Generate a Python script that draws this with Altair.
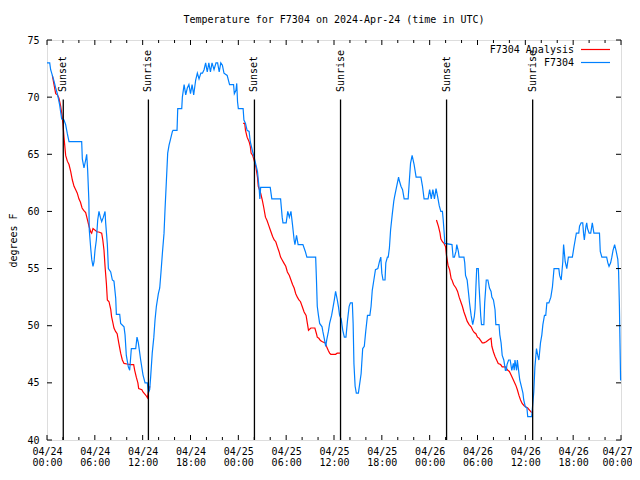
import altair as alt
import pandas as pd

# ---------------- data (hours since 2024-04-24 00:00 UTC, deg F) ----------------
obs_hours = [0.0, 0.34, 0.46, 0.67, 0.88, 1.09, 1.30, 1.59, 1.84, 2.13, 2.34, 2.55, 2.76, 4.35, 4.43, 4.64, 4.85, 4.98, 5.10, 5.25,
             5.30, 5.48, 5.61, 5.77, 5.90, 6.02, 6.19, 6.36, 6.52, 6.69, 6.86, 7.07, 7.28, 7.36, 7.57, 7.70, 7.99, 8.20, 8.40, 8.62,
             8.70, 9.12, 9.24, 9.66, 9.79, 9.95, 10.2, 10.37, 10.58, 11.13, 11.29, 11.46, 11.75, 12.04, 12.3, 12.59, 12.71, 12.88, 13.0, 13.2,
             13.4, 13.55, 13.72, 13.97, 14.14, 14.3, 14.47, 14.68, 14.8, 14.97, 15.14, 15.31, 15.52, 15.73, 15.81, 16.31, 16.4, 16.9, 16.98, 17.2,
             17.4, 17.6, 17.8, 18.0, 18.2, 18.4, 18.65, 18.86, 19.07, 19.3, 19.5, 19.7, 19.9, 20.1, 20.3, 20.5, 20.7, 20.95, 21.2, 21.4,
             21.6, 21.8, 22.0, 22.2, 22.6, 22.9, 23.4, 23.5, 23.7, 23.8, 23.9, 24.0, 24.6, 24.7, 24.9, 25.1, 25.35, 25.5, 25.8, 25.97,
             26.2, 26.4, 26.6, 26.7, 26.8, 28.0, 28.2, 29.3, 29.5, 29.6, 30.0, 30.2, 30.4, 30.6, 30.8, 31.0, 31.1, 31.3, 31.5, 32.1,
             32.4, 32.6, 33.7, 33.8, 33.9, 34.05, 34.2, 34.5, 34.6, 34.8, 34.96, 35.1, 35.3, 35.45, 35.7, 35.9, 36.05, 36.2, 36.4, 36.55,
             36.7, 36.9, 37.1, 37.3, 37.5, 37.7, 37.9, 38.06, 38.3, 38.4, 38.5, 38.65, 38.8, 39.06, 39.2, 39.4, 39.6, 39.8, 39.98, 40.2,
             40.5, 40.65, 40.8, 41.0, 41.2, 41.5, 41.7, 41.87, 42.0, 42.15, 42.4, 42.5, 42.7, 42.8, 42.95, 43.1, 43.3, 43.5, 43.6, 44.1,
             44.17, 44.4, 44.6, 44.8, 45.3, 45.5, 45.6, 45.8, 46.05, 46.3, 46.9, 47.1, 47.3, 47.8, 48.0, 48.2, 48.4, 48.6, 48.8, 49.0,
             49.2, 49.4, 49.6, 49.7, 49.85, 49.9, 50.8, 50.94, 51.1, 51.3, 51.4, 51.6, 51.7, 52.3, 52.4, 52.5, 52.7, 52.9, 53.0, 53.2,
             53.4, 53.6, 53.7, 53.8, 53.9, 54.1, 54.2, 54.4, 54.5, 54.8, 54.9, 55.1, 55.3, 55.5, 55.7, 55.8, 56.0, 56.2, 56.3, 56.7,
             56.8, 56.96, 57.1, 57.3, 57.5, 57.6, 57.7, 57.9, 58.1, 58.3, 58.5, 58.6, 58.7, 58.9, 59.0, 59.1, 59.3, 59.5, 59.7, 59.8,
             60.0, 60.2, 60.3, 60.8, 60.9, 61.06, 61.2, 61.4, 61.56, 61.7, 61.9, 62.07, 62.2, 62.4, 62.56, 62.7, 62.95, 63.2, 63.4, 63.6,
             64.2, 64.3, 64.5, 64.7, 64.8, 65.0, 65.2, 65.4, 65.9, 66.1, 66.25, 66.4, 66.7, 66.8, 67.0, 67.2, 67.3, 67.4, 67.6, 67.7,
             67.8, 68.0, 68.2, 68.4, 68.6, 69.3, 69.4, 69.6, 70.2, 70.35, 70.5, 70.7, 70.85, 71.0, 71.2, 71.4, 71.6, 71.7, 71.8, 71.95]
obs_temps = [73.0, 73.0, 72.4, 71.9, 71.4, 70.8, 70.3, 69.3, 68.1, 68.0, 67.6, 66.8, 66.1, 66.1, 64.6, 63.8, 64.5, 65.0, 63.6, 61.0,
             58.4, 56.8, 55.8, 55.2, 55.6, 56.6, 57.5, 59.25, 60.0, 59.5, 59.1, 59.5, 60.0, 59.0, 57.1, 55.0, 54.7, 54.0, 53.9, 52.4,
             51.0, 51.0, 50.2, 49.9, 49.2, 47.4, 46.4, 46.1, 48.0, 48.0, 49.0, 48.5, 47.0, 45.7, 45.0, 45.0, 44.1, 44.4, 45.5, 47.6,
             49.0, 50.5, 51.7, 52.8, 53.3, 54.7, 56.3, 58.1, 60.1, 62.6, 65.1, 65.8, 66.4, 67.0, 67.1, 67.1, 69.0, 69.0, 70.0, 71.1,
             70.2, 70.8, 71.1, 70.3, 71.1, 70.2, 71.5, 72.1, 71.6, 72.1, 72.1, 72.4, 73.0, 72.2, 73.0, 72.2, 73.0, 72.4, 73.0, 73.0,
             72.2, 73.0, 72.8, 72.1, 71.9, 71.1, 71.1, 70.3, 70.6, 71.2, 69.6, 69.0, 69.0, 68.0, 67.7, 67.1, 67.0, 66.1, 65.2, 64.8,
             64.1, 63.5, 62.1, 61.1, 62.1, 62.1, 61.1, 61.1, 59.5, 59.0, 59.0, 60.0, 59.5, 60.0, 58.8, 57.5, 57.1, 57.9, 57.1, 57.1,
             56.5, 56.0, 56.0, 54.0, 51.7, 50.9, 50.2, 49.9, 49.5, 48.8, 48.2, 48.8, 49.5, 50.2, 50.9, 51.7, 52.3, 53.0, 52.3, 51.7,
             50.9, 50.6, 49.6, 49.0, 49.0, 50.5, 51.7, 52.0, 52.0, 50.2, 46.7, 44.7, 44.1, 44.1, 44.8, 45.8, 48.0, 48.2, 49.5, 50.9,
             50.9, 51.7, 53.1, 54.0, 54.9, 55.0, 55.6, 56.0, 54.6, 54.0, 54.0, 55.5, 56.0, 56.0, 56.8, 58.4, 59.7, 60.9, 61.3, 63.0,
             62.75, 62.2, 61.9, 61.1, 61.1, 63.2, 64.2, 64.9, 64.1, 63.0, 63.0, 62.2, 61.1, 61.1, 61.9, 61.1, 61.9, 61.1, 62.0, 61.3,
             60.5, 60.0, 60.0, 59.25, 57.8, 57.2, 57.1, 56.0, 56.0, 56.5, 57.1, 56.5, 56.0, 56.0, 55.5, 54.4, 54.0, 52.7, 52.0, 50.9,
             50.1, 50.8, 51.5, 53.4, 55.0, 55.0, 53.4, 50.9, 50.1, 50.1, 52.0, 54.0, 54.0, 53.3, 53.0, 52.5, 52.25, 51.4, 50.1, 50.1,
             49.2, 48.5, 47.4, 47.0, 46.1, 46.1, 46.6, 47.0, 47.0, 46.1, 46.7, 46.1, 47.0, 46.1, 47.0, 46.4, 45.25, 44.7, 44.1, 43.5,
             42.9, 42.8, 42.05, 42.05, 42.9, 44.2, 46.4, 48.0, 47.4, 47.0, 48.5, 49.2, 50.1, 50.9, 50.9, 52.0, 52.0, 52.5, 53.4, 55.0,
             55.0, 54.4, 54.0, 55.6, 57.1, 55.6, 55.0, 56.0, 56.0, 56.9, 57.5, 58.1, 58.1, 58.7, 59.0, 59.0, 58.1, 57.5, 58.7, 59.0,
             58.5, 58.1, 58.1, 59.0, 58.1, 58.1, 56.5, 56.0, 56.0, 55.5, 55.2, 55.5, 56.0, 56.6, 57.1, 56.5, 55.8, 54.7, 51.7, 45.2]

ana_hours = [0.67, 0.88, 1.09, 1.3, 1.5, 1.72, 1.84, 2.0, 2.13, 2.34, 2.55, 2.76, 2.97, 3.18, 3.39, 3.6, 3.8, 4.0, 4.2, 4.4,
             4.6, 4.85, 5.06, 5.27, 5.48, 5.6, 5.77, 6.3, 6.5, 6.86, 7.0, 7.15, 7.28, 7.45, 7.57, 7.78, 8.0, 8.1, 8.28, 8.4,
             8.6, 8.8, 9.0, 9.24, 9.45, 9.66, 10.03, 10.5, 10.87, 11.0, 11.2, 11.4, 11.5, 11.9, 12.04, 12.3, 12.46, 12.6, 12.7, 12.9,
             24.6, 24.8, 24.9, 25.1, 25.35, 25.5, 25.6, 25.8, 25.97, 26.2, 26.4, 26.5, 26.8, 27.0, 27.2, 27.4, 27.6, 27.8, 28.0, 28.3,
             28.5, 28.7, 28.9, 29.1, 29.3, 29.5, 29.7, 29.95, 30.15, 30.4, 30.6, 30.8, 31.0, 31.2, 31.4, 31.6, 31.8, 32.0, 32.25, 32.5,
             32.66, 32.8, 33.1, 33.6, 33.8, 33.9, 34.1, 34.3, 34.55, 34.9, 35.05, 35.3, 35.45, 35.6, 36.2, 36.4, 36.75,
             48.85, 49.1, 49.3, 49.4, 49.6, 49.8, 50.0, 50.1, 50.3, 50.5, 50.7, 50.8, 51.0, 51.3, 51.5, 51.7, 51.9, 52.1, 52.3, 52.5,
             52.7, 52.95, 53.2, 53.4, 53.6, 53.8, 54.0, 54.2, 54.4, 54.6, 54.8, 55.1, 55.45, 55.7, 55.8, 56.0, 56.2, 56.4, 56.6, 56.9,
             57.1, 57.5, 57.8, 58.0, 58.2, 58.4, 58.6, 58.8, 59.0, 59.2, 59.4, 59.6, 59.85, 60.05, 60.3, 60.55, 60.8]
ana_temps = [71.9, 71.1, 70.3, 70.2, 69.9, 69.2, 68.6, 67.7, 66.5, 64.9, 64.4, 64.1, 63.5, 62.75, 62.2, 61.9, 61.6, 61.1, 60.8, 60.3,
             60.1, 59.9, 59.3, 58.7, 58.2, 58.1, 58.5, 58.2, 58.2, 58.1, 57.5, 56.6, 55.2, 53.7, 52.25, 52.1, 51.4, 50.8, 50.2, 49.8,
             49.5, 49.3, 48.5, 47.6, 47.0, 46.7, 46.65, 46.6, 46.6, 46.1, 45.5, 45.0, 44.5, 44.4, 44.2, 44.0, 43.85, 43.7, 44.2, 44.7,
             67.7, 67.7, 67.1, 66.5, 66.1, 65.7, 65.1, 64.9, 64.5, 63.9, 63.0, 62.2, 61.6, 61.0, 60.3, 59.5, 59.2, 58.8, 58.4, 57.8,
             57.5, 57.35, 56.9, 56.5, 56.0, 55.75, 55.5, 55.2, 54.7, 54.4, 54.0, 53.6, 53.3, 52.8, 52.5, 52.25, 52.1, 51.7, 51.2, 50.9,
             50.2, 49.6, 49.8, 49.8, 49.3, 49.0, 48.9, 48.7, 48.6, 48.5, 48.2, 47.8, 47.6, 47.5, 47.5, 47.6, 47.6,
             59.25, 58.7, 58.1, 57.6, 57.35, 57.2, 56.9, 56.2, 55.3, 54.9, 54.1, 54.0, 53.6, 53.3, 53.0, 52.5, 52.1, 51.7, 51.2, 50.8,
             50.4, 50.1, 49.9, 49.6, 49.4, 49.3, 49.0, 48.9, 48.7, 48.5, 48.5, 48.6, 48.8, 48.9, 48.2, 47.7, 47.3, 47.0, 46.7, 46.6,
             46.4, 46.4, 46.1, 46.0, 45.7, 45.4, 45.1, 44.8, 44.4, 43.9, 43.5, 43.2, 43.0, 42.9, 42.8, 42.6, 42.4]
ana_segment = [1] * 60 + [2] * 57 + [3] * 57

event_hours = [2.04, 12.72, 26.02, 36.82, 50.12, 60.92]
event_labels = ["Sunset", "Sunrise", "Sunset", "Sunrise", "Sunset", "Sunrise"]

x_major_ticks = list(range(0, 73, 6))
x_minor_ticks = [h for h in range(0, 73, 2) if h % 6 != 0]
y_ticks = [40, 45, 50, 55, 60, 65, 70, 75]

legend_labels = ["F7304 Analysis", "F7304"]
legend_colors = ["#ff0000", "#0080ff"]

# ---------------- chart ----------------
FONT = "DejaVu Sans Mono"
PW, PH = 574, 400

obs = pd.DataFrame({"h": obs_hours, "t": obs_temps})
ana = pd.DataFrame({"h": ana_hours, "t": ana_temps, "seg": ana_segment})
ev = pd.DataFrame({"h": event_hours, "label": event_labels})
xmaj = pd.DataFrame({"h": x_major_ticks})
xmin = pd.DataFrame({"h": x_minor_ticks})
yt = pd.DataFrame({"t": y_ticks})

xscale = alt.Scale(domain=[0, 72], nice=False, zero=False)
yscale = alt.Scale(domain=[40, 75], nice=False, zero=False)

label_expr = ("['04/' + (24 + floor(datum.value / 24)), "
              "(floor(datum.value % 24) < 10 ? '0' : '') + floor(datum.value % 24) + ':00']")

x_axis = alt.Axis(values=x_major_ticks, labelExpr=label_expr, ticks=False, domain=False, grid=False,
                  labelPadding=6, labelLineHeight=11.5, labelFlush=False, labelOverlap=False,
                  labelOffset={"condition": {"test": "datum.value >= 72", "value": -4}, "value": 0},
                  labelFont=FONT, labelFontSize=10, labelColor="black", title=None)
y_axis = alt.Axis(values=y_ticks, ticks=False, domain=False, grid=False, labelPadding=8,
                  labelFont=FONT, labelFontSize=10, labelColor="black", labelFlush=False,
                  title="degrees F", titleFont=FONT, titleFontSize=10, titleFontWeight="normal",
                  titleColor="black", titlePadding=8)

X = alt.X("h:Q", scale=xscale, axis=x_axis)
Y = alt.Y("t:Q", scale=yscale, axis=y_axis)

red = alt.Chart(ana).mark_line(color="#ff0000", strokeWidth=1.2).encode(x=X, y=Y, detail="seg:N")
blue = alt.Chart(obs).mark_line(color="#0080ff", strokeWidth=1.2).encode(x=X, y=Y)

ev_rules = alt.Chart(ev).mark_rule(color="black", strokeWidth=1.3).encode(
    x=X, y=alt.datum(69.8), y2=alt.datum(40))
ev_text = alt.Chart(ev).mark_text(angle=270, align="left", baseline="middle", font=FONT,
                                  fontSize=10, color="black").encode(
    x=X, y=alt.datum(70.45), text="label:N")

tick_maj_b = alt.Chart(xmaj).mark_rule(color="black").encode(x=X, y=alt.value(PH), y2=alt.value(PH - 5))
tick_maj_t = alt.Chart(xmaj).mark_rule(color="black").encode(x=X, y=alt.value(0), y2=alt.value(5))
tick_min_b = alt.Chart(xmin).mark_rule(color="black").encode(x=X, y=alt.value(PH), y2=alt.value(PH - 3))
tick_min_t = alt.Chart(xmin).mark_rule(color="black").encode(x=X, y=alt.value(0), y2=alt.value(3))
tick_y_l = alt.Chart(yt).mark_rule(color="black").encode(y=Y, x=alt.value(0), x2=alt.value(5))
tick_y_r = alt.Chart(yt).mark_rule(color="black").encode(y=Y, x=alt.value(PW), x2=alt.value(PW - 5))

legend_layers = []
for i, (lab, col) in enumerate(zip(legend_labels, legend_colors)):
    ypix = 9.5 + 13 * i
    d = pd.DataFrame({"label": [lab]})
    legend_layers.append(
        alt.Chart(d).mark_text(align="right", baseline="middle", font=FONT, fontSize=10,
                               color="black").encode(x=alt.value(527), y=alt.value(ypix), text="label:N"))
    legend_layers.append(
        alt.Chart(d).mark_rule(strokeWidth=1.2, color=col).encode(
            x=alt.value(534), x2=alt.value(563), y=alt.value(ypix)))

chart = alt.layer(
    red, blue, ev_rules, ev_text,
    tick_maj_b, tick_maj_t, tick_min_b, tick_min_t, tick_y_l, tick_y_r,
    *legend_layers,
).properties(
    width=PW, height=PH,
    autosize=alt.AutoSizeParams(type="none"),
    padding={"left": 39, "top": 32, "right": 11, "bottom": 28},
    title=alt.Title("Temperature for F7304 on 2024-Apr-24 (time in UTC)", font=FONT, fontSize=10,
                    fontWeight="normal", color="black", anchor="middle", baseline="middle", offset=5),
).configure_view(stroke="black", strokeWidth=1).configure(background="white")

chart.save("out.html", embed_options={"renderer": "svg", "actions": False})
